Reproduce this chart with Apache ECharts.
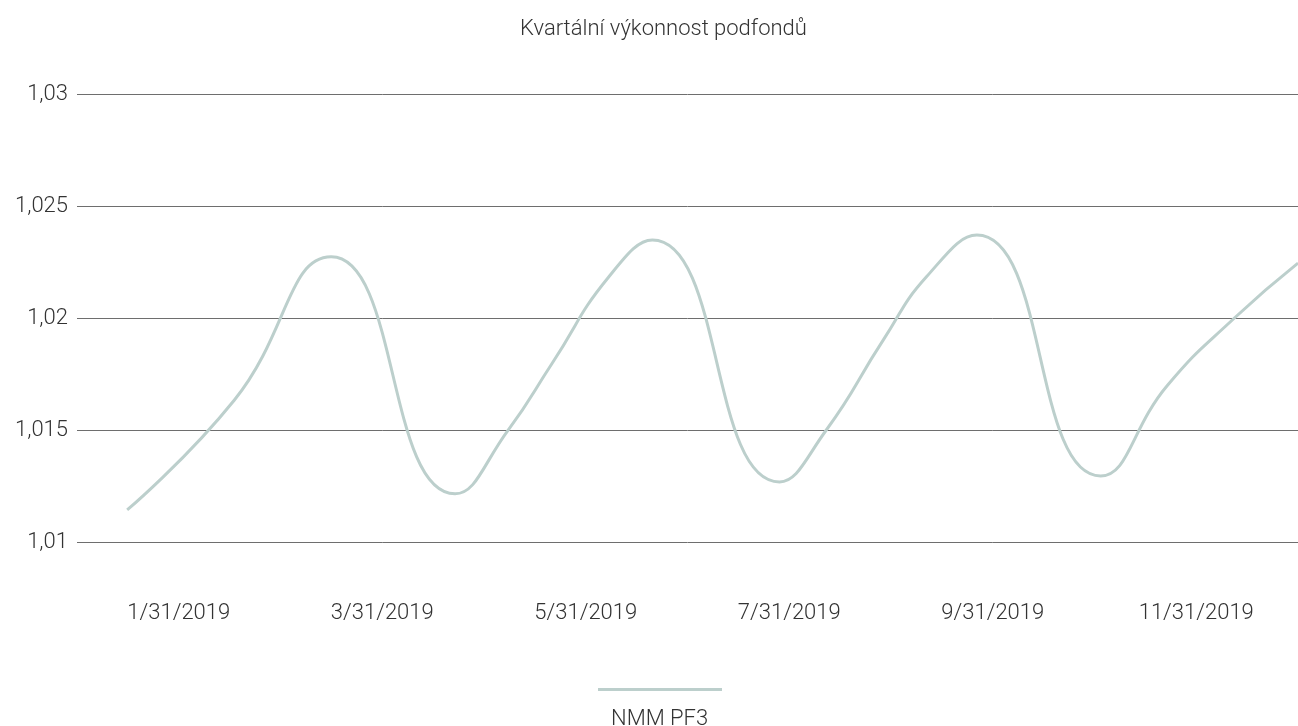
<!DOCTYPE html>
<html>
<head>
<meta charset="utf-8">
<script src="https://cdn.jsdelivr.net/npm/echarts@6/dist/echarts.min.js"></script>
<style>
html,body{margin:0;padding:0;background:#fff;}
#chart{width:1298px;height:726px;}
</style>
</head>
<body>
<div id="chart"></div>
<script>
// Tick labels shown under the x axis
const xLabels = ['1/31/2019','3/31/2019','5/31/2019','7/31/2019','9/31/2019','11/31/2019'];
// Observation dates of the series
const dates = ['2019-01-16','2019-02-17','2019-03-18','2019-04-24',
  '2019-05-10','2019-05-23','2019-06-09','2019-06-22','2019-07-30',
  '2019-08-13','2019-08-30','2019-09-12','2019-09-27','2019-11-03',
  '2019-11-23','2019-12-13','2020-01-01'];
// Series values (NMM PF3)
const values = [1.01143,1.01633,1.02273,1.01215,
  1.01502,1.01797,1.02184,1.02348,1.01268,
  1.0150,1.01901,1.02185,1.0237,1.01295,
  1.0170,1.0200,1.02245];
const seriesName = 'NMM PF3';
const chartTitle = 'Kvartální výkonnost podfondů';

const font = 'Roboto, "Noto Sans", sans-serif';
const chart = echarts.init(document.getElementById('chart'));
chart.setOption({
  animation: false,
  title: [
    { text: chartTitle, left: 515, top: 13,
      textStyle: { fontFamily: font, fontSize: 22, fontWeight: 300, color: '#333' } },
    { text: seriesName, left: 606, top: 703,
      textStyle: { fontFamily: font, fontSize: 22, fontWeight: 300, color: '#333' } }
  ],
  legend: {
    data: [seriesName], left: 593, top: 683, icon: 'rect',
    itemWidth: 124, itemHeight: 3, formatter: () => '',
    textStyle: { fontSize: 1 }
  },
  grid: { left: 77, right: -12, top: 94, bottom: 184, containLabel: false },
  xAxis: [
    { type: 'category', data: xLabels, boundaryGap: true,
      axisLine: { show: false }, axisTick: { show: false }, splitLine: { show: false },
      axisLabel: { margin: 60, fontFamily: font, fontSize: 22, fontWeight: 300, color: '#333' } },
    { type: 'time', min: '2019-01-01', max: '2020-01-01', show: false }
  ],
  yAxis: {
    type: 'value', min: 1.01, max: 1.03, interval: 0.005,
    axisLine: { show: false }, axisTick: { show: false },
    splitLine: { lineStyle: { color: '#6e6e6e', width: 1 } },
    axisLabel: { margin: 9, fontFamily: font, fontSize: 22, fontWeight: 300, color: '#333',
      formatter: v => String(+v.toFixed(3)).replace('.', ',') }
  },
  series: [{
    name: seriesName, type: 'line', xAxisIndex: 1,
    data: dates.map((d, i) => [d, values[i]]),
    smooth: 0.5, showSymbol: false, symbol: 'none',
    lineStyle: { color: '#bccfcc', width: 3 }, itemStyle: { color: '#bccfcc' }
  }]
});
</script>
</body>
</html>
